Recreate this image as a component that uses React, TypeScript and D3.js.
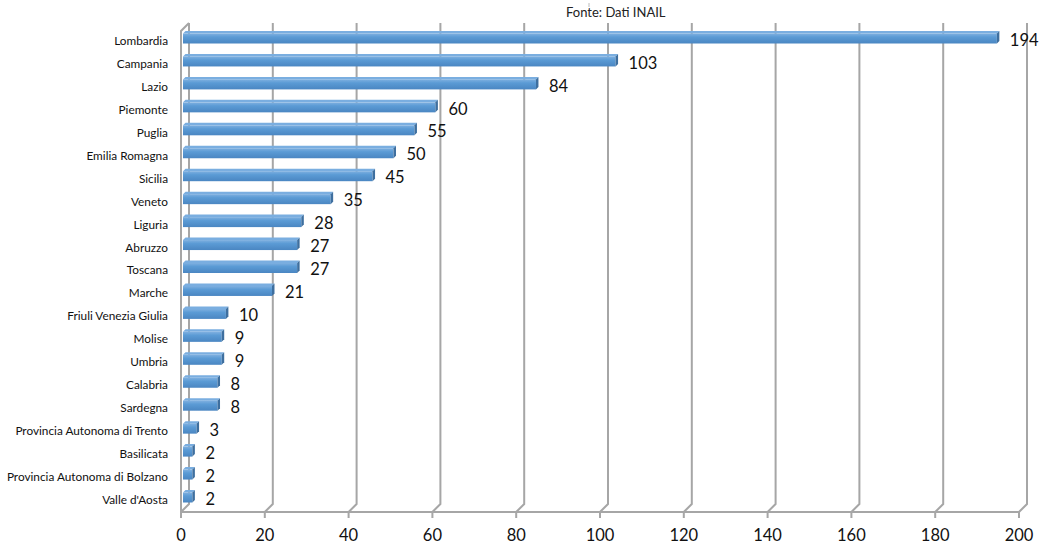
import React from "react";
import * as d3 from "d3";

const categories = [
  "Lombardia", "Campania", "Lazio", "Piemonte", "Puglia", "Emilia Romagna", "Sicilia",
  "Veneto", "Liguria", "Abruzzo", "Toscana", "Marche", "Friuli Venezia Giulia", "Molise",
  "Umbria", "Calabria", "Sardegna", "Provincia Autonoma di Trento", "Basilicata",
  "Provincia Autonoma di Bolzano", "Valle d'Aosta",
];
const values = [194, 103, 84, 60, 55, 50, 45, 35, 28, 27, 27, 21, 10, 9, 9, 8, 8, 3, 2, 2, 2];
const ticks = [0, 20, 40, 60, 80, 100, 120, 140, 160, 180, 200];
const source = "Fonte: Dati INAIL";

const W = 1041, H = 544;
const DX = 8, DY = 8; // 3D depth offset of back wall
const floorY = 512;
const topY = 23;

export default function App() {
  const x = d3.scaleLinear().domain([0, 200]).range([181, 1019]);
  const y = d3.scalePoint<string>().domain(categories).range([38, 497]);
  const grid = "#a6a6a6";
  const num = "Lato, 'Open Sans', sans-serif";
  return (
    <svg width={W} height={H} style={{ position: "absolute", left: 0, top: 0, background: "#fff" }}>
      <defs>
        <linearGradient id="barg" x1="0" y1="0" x2="0" y2="1">
          <stop offset="0" stopColor="#7fb0e0" />
          <stop offset="0.35" stopColor="#5b9bd5" />
          <stop offset="1" stopColor="#4a86c2" />
        </linearGradient>
      </defs>
      {/* back gridlines */}
      {ticks.map((t) => {
        const fx = x(t);
        return (
          <path
            key={"g" + t}
            d={`M${fx + DX},${topY} L${fx + DX},${floorY - DY} L${fx},${floorY} L${fx},${floorY + 6}`}
            fill="none"
            stroke={grid}
            strokeWidth={2}
          />
        );
      })}
      {/* left wall */}
      <path
        d={`M${x(0)},${floorY} L${x(0)},${topY + DY} L${x(0) + DX},${topY}`}
        fill="none"
        stroke={grid}
        strokeWidth={2}
      />
      {/* floor front line */}
      <line x1={x(0)} x2={x(200)} y1={floorY} y2={floorY} stroke={grid} strokeWidth={2} />
      {/* small mark above source */}
      <line x1={589} x2={589} y1={3} y2={7} stroke="#bbb" strokeWidth={1} />
      <text x={566} y={17} fontFamily="Lato, 'Open Sans', sans-serif" fontSize={13} fill="#222">
        {source}
      </text>
      {/* bars */}
      {categories.map((c, i) => {
        const cy = y(c)!;
        const x0 = x(0) + 2;
        const x1 = x(values[i]) + 3;
        const t = cy - 4.5;
        const b = cy + 5.5;
        const d = 2.5;
        return (
          <g key={c}>
            <path d={`M${x0},${t} L${x0 + d},${t - d} L${x1 + d},${t - d} L${x1},${t} Z`} fill="#7aaee0" />
            <rect x={x0} y={t} width={Math.max(0, x1 - x0)} height={b - t} fill="url(#barg)" />
            <path d={`M${x1},${t} L${x1 + d},${t - d} L${x1 + d},${b - d} L${x1},${b} Z`} fill="#3e6f9f" />
            <text
              x={x1 + 13}
              y={cy + 3.5}
              dominantBaseline="middle"
              fontFamily={num}
              fontSize={16.5}
              fill="#111"
            >
              {values[i]}
            </text>
            <text
              x={168}
              y={cy + 4}
              textAnchor="end"
              dominantBaseline="middle"
              fontFamily="Lato, 'Open Sans', sans-serif"
              fontSize={11.8}
              fill="#111"
            >
              {c}
            </text>
          </g>
        );
      })}
      {/* x tick labels */}
      {ticks.map((t) => (
        <text
          key={"t" + t}
          x={x(t)}
          y={537}
          textAnchor="middle"
          dominantBaseline="middle"
          fontFamily={num}
          fontSize={16.5}
          fill="#111"
        >
          {t}
        </text>
      ))}
    </svg>
  );
}
